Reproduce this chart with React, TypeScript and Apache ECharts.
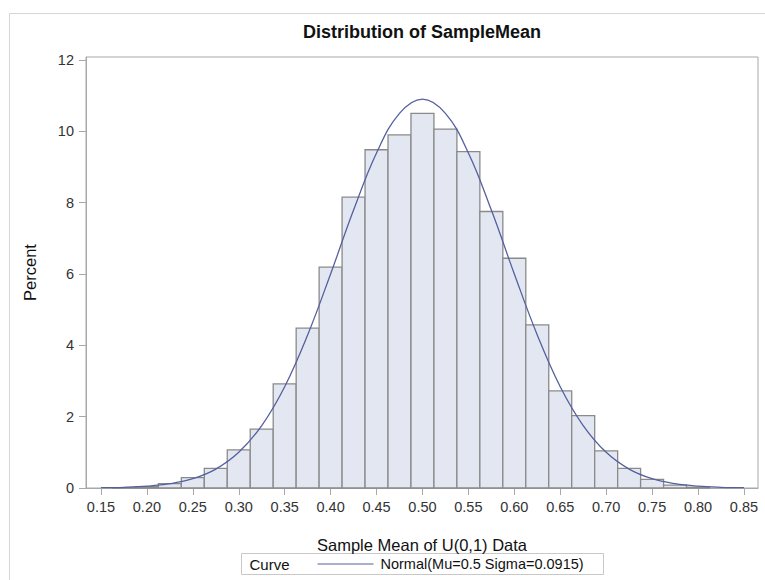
import React, { useEffect, useRef } from "react";
import * as echarts from "echarts";

const titleText = "Distribution of SampleMean";
const xAxisTitle = "Sample Mean of U(0,1) Data";
const yAxisTitle = "Percent";
const legendTitle = "Curve";
const curveName = "Normal(Mu=0.5 Sigma=0.0915)";

const binWidth = 0.025;
const binCenters = [
  0.175, 0.2, 0.225, 0.25, 0.275, 0.3, 0.325, 0.35, 0.375, 0.4, 0.425, 0.45, 0.475,
  0.5, 0.525, 0.55, 0.575, 0.6, 0.625, 0.65, 0.675, 0.7, 0.725, 0.75, 0.775, 0.8,
];
const binPercents = [
  0.01, 0.04, 0.12, 0.29, 0.55, 1.07, 1.65, 2.92, 4.48, 6.19, 8.15, 9.48, 9.9,
  10.5, 10.06, 9.43, 7.75, 6.44, 4.57, 2.72, 2.03, 1.04, 0.55, 0.24, 0.08, 0.02,
];

const curveX = [
  0.15, 0.175, 0.2, 0.225, 0.25, 0.275, 0.3, 0.325, 0.35, 0.375, 0.4, 0.425, 0.45,
  0.475, 0.5, 0.525, 0.55, 0.575, 0.6, 0.625, 0.65, 0.675, 0.7, 0.725, 0.75, 0.775,
  0.8, 0.825, 0.85,
];
const curveY = [
  0.01, 0.02, 0.05, 0.12, 0.26, 0.53, 1.0, 1.75, 2.84, 4.29, 6.0, 7.79, 9.39,
  10.5, 10.9, 10.5, 9.39, 7.79, 6.0, 4.29, 2.84, 1.75, 1.0, 0.53, 0.26, 0.12,
  0.05, 0.02, 0.01,
];

const xTicks = [0.15, 0.2, 0.25, 0.3, 0.35, 0.4, 0.45, 0.5, 0.55, 0.6, 0.65, 0.7, 0.75, 0.8, 0.85];
const yTicks = [0, 2, 4, 6, 8, 10, 12];

export default function App() {
  const ref = useRef<HTMLDivElement>(null);
  useEffect(() => {
    if (!ref.current) return;
    const chart = echarts.init(ref.current, null, { renderer: "svg" });
    const axisGray = "#a8a8a8";
    const textColor = "#333333";
    const curveColor = "#56609e";
    const font = "Liberation Sans, Arial, sans-serif";
    chart.setOption({
      animation: false,
      backgroundColor: "#ffffff",
      title: {
        text: titleText,
        left: 303,
        top: 23,
        padding: 0,
        textStyle: { fontSize: 18, fontWeight: "bold", color: "#111", fontFamily: font },
      },
      grid: {
        left: 86,
        right: 7,
        top: 57,
        bottom: 92,
        show: true,
        borderColor: axisGray,
        borderWidth: 1,
        backgroundColor: "transparent",
      },
      xAxis: {
        type: "value",
        min: 0.1337,
        max: 0.8653,
        name: xAxisTitle,
        nameLocation: "middle",
        nameGap: 48,
        nameTextStyle: { fontSize: 16.5, color: "#111", fontFamily: font },
        axisLine: { show: true, lineStyle: { color: axisGray } },
        axisTick: { show: true, length: 7, customValues: xTicks, lineStyle: { color: axisGray } },
        axisLabel: {
          customValues: xTicks,
          formatter: (v: number) => v.toFixed(2),
          fontSize: 14.5,
          color: textColor,
          margin: 11,
          fontFamily: font,
        },
        splitLine: { show: false },
      },
      yAxis: {
        type: "value",
        min: 0,
        max: 12.08,
        name: yAxisTitle,
        nameLocation: "middle",
        nameGap: 48,
        nameRotate: 90,
        nameTextStyle: { fontSize: 16.5, color: "#111", fontFamily: font },
        axisLine: { show: true, lineStyle: { color: axisGray } },
        axisTick: { show: true, length: 7, customValues: yTicks, lineStyle: { color: axisGray } },
        axisLabel: {
          customValues: yTicks,
          fontSize: 14.5,
          color: textColor,
          margin: 12,
          fontFamily: font,
        },
        splitLine: { show: false },
      },
      graphic: [
        {
          type: "rect",
          left: 7,
          top: 11,
          shape: { width: 900, height: 700 },
          style: { fill: "none", stroke: "#d6d6d6", lineWidth: 1 },
          silent: true,
          z: -10,
        },
        {
          type: "group",
          left: 241,
          top: 553,
          children: [
            {
              type: "rect",
              shape: { x: 0, y: 0, width: 362, height: 21 },
              style: { fill: "#ffffff", stroke: "#c8c8c8", lineWidth: 1 },
            },
            {
              type: "text",
              x: 8,
              y: 10.5,
              style: {
                text: legendTitle,
                fontSize: 15,
                fill: "#111",
                fontFamily: font,
                textVerticalAlign: "middle",
              },
            },
            {
              type: "line",
              shape: { x1: 76, y1: 10.5, x2: 132, y2: 10.5 },
              style: { stroke: curveColor, lineWidth: 1.2 },
            },
            {
              type: "text",
              x: 139,
              y: 10.5,
              style: {
                text: curveName,
                fontSize: 14.5,
                fill: "#111",
                fontFamily: font,
                textVerticalAlign: "middle",
              },
            },
          ],
        },
      ],
      series: [
        {
          type: "custom",
          name: "Histogram",
          data: binCenters.map((c, i) => [c, binPercents[i]]),
          encode: { x: 0, y: 1 },
          renderItem: (_params: any, api: any) => {
            const c = api.value(0);
            const v = api.value(1);
            const p0 = api.coord([c - binWidth / 2, v]);
            const p1 = api.coord([c + binWidth / 2, 0]);
            return {
              type: "rect",
              shape: { x: p0[0], y: p0[1], width: p1[0] - p0[0], height: p1[1] - p0[1] },
              style: { fill: "#e2e7f1", stroke: "#8a8a8a", lineWidth: 1.3 },
            };
          },
          z: 2,
        },
        {
          type: "line",
          name: curveName,
          data: curveX.map((x, i) => [x, curveY[i]]),
          showSymbol: false,
          smooth: 0.4,
          lineStyle: { color: curveColor, width: 1.3 },
          itemStyle: { color: curveColor },
          z: 5,
        },
      ],
    });
    return () => chart.dispose();
  }, []);
  return (
    <div
      ref={ref}
      style={{ position: "fixed", left: 0, top: 0, width: 765, height: 580 }}
    />
  );
}
